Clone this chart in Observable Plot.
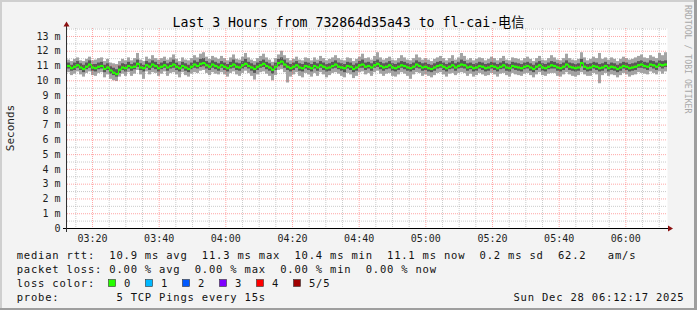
<!DOCTYPE html>
<html><head><meta charset="utf-8">
<script src="https://cdn.jsdelivr.net/npm/d3@7"></script>
<script src="https://cdn.jsdelivr.net/npm/@observablehq/plot@0.6"></script>
<style>
html,body{margin:0;padding:0;background:#f3f3f3;}
svg{display:block}
</style></head><body><div id="chart"></div>
<script>
const titleText = "Last 3 Hours from 732864d35a43 to fl-cai-电信";
const yAxisTitle = "Seconds";
const watermarkText = "RRDTOOL / TOBI OETIKER";
const yTickValues = [0,1,2,3,4,5,6,7,8,9,10,11,12,13];
const yTickLabels = ["0","1 m","2 m","3 m","4 m","5 m","6 m","7 m","8 m","9 m","10 m","11 m","12 m","13 m"];
const xTickLabels = ["03:20","03:40","04:00","04:20","04:40","05:00","05:20","05:40","06:00"];
const graphDate = "2025-12-28";
const rangeStart = "03:12:30";
const rangeEnd = "06:12:30";
const sampleStepSeconds = 54;

const rttMedian = [
11.00,10.85,10.95,11.05,10.90,10.80,10.95,11.10,10.90,10.85,
10.95,11.00,10.80,10.90,10.70,10.55,10.45,10.75,10.90,10.85,
11.00,10.90,10.95,11.15,10.90,10.85,11.05,10.95,11.10,11.00,
10.85,10.95,11.05,10.90,11.00,11.10,10.95,10.85,11.00,10.90,
10.80,10.95,11.10,11.00,11.15,11.20,11.05,10.95,11.10,11.00,
10.90,11.05,10.95,10.85,11.00,11.10,10.95,10.90,11.05,11.15,
11.00,10.90,10.80,10.95,11.05,11.15,11.00,10.90,10.75,10.95,
11.20,11.30,11.10,10.95,10.85,10.95,11.05,10.90,10.85,11.00,
10.95,10.85,11.00,10.90,11.05,10.95,10.85,10.90,11.00,11.10,
10.95,10.90,10.85,11.00,10.95,10.80,10.90,11.05,11.10,10.95,
11.00,10.90,11.05,11.15,11.00,10.90,10.95,11.05,10.90,10.85,
10.95,11.05,11.00,10.90,10.85,10.95,11.10,11.00,10.90,10.95,
10.85,10.80,10.90,11.00,11.05,10.95,10.85,10.95,11.05,10.90,
11.00,11.10,11.05,10.90,10.95,10.85,10.90,11.00,10.95,10.85,
10.90,11.00,10.95,10.85,10.95,11.05,10.90,10.85,11.00,10.95,
10.90,10.85,10.95,11.00,10.90,10.80,10.95,11.05,10.90,10.85,
10.95,11.05,11.00,10.90,10.85,10.95,11.10,10.95,10.90,10.85,
10.90,11.20,10.95,10.85,10.90,11.00,10.95,10.85,10.90,11.00,
10.85,10.95,10.90,10.80,10.90,11.00,10.95,10.85,10.90,10.95,
11.05,11.10,11.00,10.95,11.10,11.05,10.95,11.10,11.05,11.10];
const rttP2 = [
10.80,10.65,10.70,10.85,10.70,10.55,10.75,10.85,10.65,10.60,
10.75,10.80,10.55,10.70,10.45,10.35,10.25,10.50,10.70,10.60,
10.80,10.65,10.75,10.90,10.70,10.60,10.85,10.70,10.85,10.75,
10.60,10.75,10.85,10.65,10.80,10.85,10.70,10.60,10.80,10.65,
10.55,10.75,10.85,10.80,10.90,10.95,10.80,10.70,10.85,10.75,
10.65,10.85,10.70,10.60,10.80,10.85,10.70,10.65,10.80,10.90,
10.80,10.65,10.50,10.70,10.85,10.90,10.75,10.65,10.45,10.70,
10.95,11.05,10.85,10.70,10.60,10.70,10.85,10.65,10.60,10.80,
10.70,10.60,10.80,10.65,10.85,10.70,10.60,10.65,10.80,10.85,
10.75,10.65,10.55,10.80,10.70,10.55,10.65,10.85,10.85,10.70,
10.80,10.65,10.85,10.90,10.75,10.65,10.75,10.80,10.65,10.60,
10.70,10.85,10.75,10.65,10.60,10.70,10.85,10.80,10.65,10.70,
10.60,10.55,10.65,10.80,10.85,10.70,10.60,10.75,10.80,10.65,
10.80,10.85,10.80,10.65,10.75,10.60,10.65,10.80,10.70,10.60,
10.65,10.80,10.70,10.60,10.75,10.80,10.65,10.60,10.80,10.70,
10.65,10.60,10.75,10.80,10.65,10.55,10.70,10.85,10.65,10.60,
10.75,10.80,10.80,10.65,10.60,10.70,10.85,10.70,10.65,10.60,
10.65,10.95,10.70,10.60,10.65,10.80,10.70,10.60,10.65,10.80,
10.60,10.70,10.65,10.55,10.65,10.80,10.70,10.60,10.65,10.70,
10.85,10.85,10.80,10.70,10.90,10.80,10.70,10.90,10.80,10.90];
const rttP4 = [
11.20,11.05,11.20,11.30,11.15,11.05,11.20,11.35,11.10,11.10,
11.20,11.25,11.05,11.15,10.95,10.85,10.75,11.00,11.15,11.10,
11.25,11.10,11.20,11.40,11.15,11.05,11.30,11.20,11.35,11.25,
11.10,11.20,11.30,11.15,11.25,11.40,11.20,11.05,11.25,11.15,
11.05,11.20,11.35,11.25,11.45,11.50,11.30,11.20,11.35,11.25,
11.15,11.30,11.20,11.10,11.25,11.40,11.20,11.15,11.30,11.45,
11.25,11.15,11.05,11.20,11.30,11.40,11.25,11.15,11.00,11.20,
11.45,11.55,11.40,11.20,11.10,11.20,11.30,11.15,11.10,11.25,
11.20,11.10,11.25,11.15,11.30,11.20,11.10,11.15,11.25,11.35,
11.20,11.15,11.10,11.25,11.20,11.05,11.15,11.30,11.40,11.20,
11.25,11.15,11.30,11.40,11.25,11.15,11.20,11.30,11.15,11.10,
11.20,11.30,11.25,11.15,11.10,11.20,11.35,11.25,11.15,11.20,
11.10,11.05,11.15,11.25,11.30,11.20,11.10,11.20,11.30,11.15,
11.25,11.40,11.30,11.15,11.20,11.10,11.15,11.25,11.20,11.10,
11.15,11.25,11.20,11.10,11.20,11.30,11.15,11.10,11.25,11.20,
11.15,11.10,11.20,11.25,11.15,11.05,11.20,11.30,11.15,11.10,
11.20,11.30,11.25,11.15,11.10,11.20,11.35,11.20,11.15,11.10,
11.15,11.45,11.20,11.10,11.15,11.25,11.20,11.10,11.15,11.25,
11.10,11.20,11.15,11.05,11.15,11.25,11.20,11.10,11.15,11.20,
11.30,11.35,11.25,11.20,11.35,11.30,11.20,11.35,11.30,11.35];
const rttMin = [
10.55,10.35,10.45,10.60,10.40,10.25,10.50,10.60,10.35,10.30,
10.50,10.55,10.20,10.40,10.10,10.00,9.95,10.25,10.45,10.30,
10.55,10.30,10.45,10.70,10.40,10.10,10.60,10.40,10.55,10.50,
10.30,10.45,10.60,10.30,10.50,10.55,10.40,10.20,10.55,10.35,
10.25,10.45,10.55,10.50,10.65,10.70,10.50,10.35,10.55,10.45,
10.40,10.55,10.40,10.25,10.50,10.60,10.40,10.30,10.50,10.65,
10.50,10.30,10.05,10.40,10.55,10.60,10.45,10.30,10.00,10.35,
10.70,10.75,10.55,9.85,10.25,10.40,10.55,10.30,10.20,10.50,
10.40,10.25,10.50,10.30,10.55,10.40,10.20,10.35,10.50,10.55,
10.45,10.30,10.20,10.50,10.40,10.15,10.30,10.55,10.60,10.40,
10.50,10.30,10.55,10.65,10.45,10.30,10.45,10.50,10.30,10.25,
10.40,10.55,10.45,10.30,10.10,10.40,10.55,10.50,10.30,10.40,
10.30,10.20,10.35,10.50,10.55,10.40,10.25,10.45,10.50,10.35,
10.50,10.55,10.50,10.30,10.45,10.25,10.35,10.50,10.40,10.30,
10.35,10.50,10.40,10.25,10.45,10.50,10.35,10.25,10.50,10.40,
10.35,10.30,10.45,10.50,10.35,10.20,10.40,10.55,10.35,10.30,
10.45,10.50,10.50,10.30,10.25,10.40,10.55,10.40,10.30,10.25,
10.35,10.55,10.40,10.30,10.30,10.50,10.40,9.80,10.35,10.50,
10.30,10.40,10.35,10.20,10.35,10.50,10.40,10.25,10.35,10.40,
10.55,10.50,10.45,10.40,10.60,10.50,10.40,10.60,10.45,10.60];
const rttMax = [
11.40,11.30,11.45,11.55,11.35,11.30,11.45,11.60,11.35,11.40,
11.50,11.55,11.30,11.45,11.20,11.15,11.10,11.30,11.45,11.35,
11.55,11.35,11.50,11.85,11.40,11.30,11.60,11.45,11.70,11.50,
11.40,11.50,11.60,11.40,11.55,11.75,11.45,11.30,11.55,11.40,
11.35,11.50,11.70,11.55,11.80,11.90,11.60,11.45,11.65,11.55,
11.45,11.65,11.50,11.35,11.55,11.75,11.45,11.40,11.60,11.85,
11.55,11.40,11.30,11.50,11.65,11.80,11.55,11.40,11.25,11.50,
11.75,12.00,11.70,11.50,11.35,11.45,11.60,11.40,11.35,11.55,
11.50,11.35,11.55,11.40,11.65,11.50,11.35,11.45,11.55,11.70,
11.50,11.40,11.35,11.55,11.50,11.30,11.45,11.60,11.80,11.50,
11.55,11.40,11.65,11.90,11.55,11.40,11.50,11.60,11.40,11.35,
11.50,11.70,11.55,11.40,11.35,11.50,11.75,11.55,11.40,11.50,
11.40,11.30,11.45,11.55,11.65,11.50,11.35,11.50,11.70,11.40,
11.55,11.85,11.65,11.40,11.50,11.35,11.45,11.55,11.50,11.35,
11.45,11.60,11.50,11.35,11.50,11.65,11.40,11.35,11.55,11.50,
11.45,11.35,11.50,11.60,11.45,11.30,11.50,11.65,11.40,11.35,
11.50,11.70,11.55,11.40,11.35,11.50,11.80,11.50,11.40,11.35,
11.45,11.90,11.55,11.35,11.45,11.60,11.50,11.85,11.45,11.55,
11.40,11.55,11.45,11.30,11.45,11.60,11.50,11.40,11.45,11.55,
11.65,11.75,11.55,11.50,11.70,11.60,11.50,11.85,11.70,11.90];

const legendRtt = "median rtt:  10.9 ms avg  11.3 ms max  10.4 ms min  11.1 ms now  0.2 ms sd  62.2   am/s";
const legendLoss = "packet loss: 0.00 % avg  0.00 % max  0.00 % min  0.00 % now";
const legendLossTitle = "loss color:";
const lossLabels = ["0","1","2","3","4","5/5"];
const lossColors = ["#26ff00","#00b8ff","#0059ff","#7e00ff","#ff0000","#a00000"];
const legendProbe = "probe:        5 TCP Pings every 15s";
const stampText = "Sun Dec 28 06:12:17 2025";

// ---- build ----
const t0 = new Date(`${graphDate}T${rangeStart}Z`);
const tEnd = new Date(`${graphDate}T${rangeEnd}Z`);
const samples = rttMedian.map((m, i) => ({
  t1: new Date(+t0 + i * sampleStepSeconds * 1000),
  t2: new Date(+t0 + (i + 1) * sampleStepSeconds * 1000),
  med: m, p2: rttP2[i], p4: rttP4[i], lo: rttMin[i], hi: rttMax[i]
}));
const majorX = xTickLabels.map(l => new Date(`${graphDate}T${l}:00Z`));
const labelByTime = new Map(majorX.map((d, i) => [+d, xTickLabels[i]]));
const minorX = d3.utcMinute.every(5).range(t0, tEnd).filter(d => !labelByTime.has(+d));
const majorY = yTickValues.filter(v => v > 0);
const minorY = yTickValues.map(v => v + 0.5);
const MONO = "DejaVu Sans Mono, 'Noto Sans CJK SC', monospace";

const plot = Plot.plot({
  width: 697, height: 310,
  marginLeft: 67, marginRight: 30, marginTop: 28, marginBottom: 82,
  style: {background: "#f3f3f3", fontFamily: MONO, color: "#1e1e1e", overflow: "visible"},
  x: {type: "utc", domain: [t0, tEnd]},
  y: {domain: [0, 13.54]},
  marks: [
    Plot.frame({fill: "white", stroke: null}),
    Plot.rect(samples, {x1: "t1", x2: "t2", y1: "lo", y2: "hi", fill: "#a4a4a4"}),
    Plot.rect(samples, {x1: "t1", x2: "t2", y1: "p2", y2: "p4", fill: "#585858"}),
    Plot.gridX(minorX, {stroke: "#a0a0a0", strokeOpacity: 0.55, strokeDasharray: "1,1"}),
    Plot.gridY(minorY, {stroke: "#a0a0a0", strokeOpacity: 0.55, strokeDasharray: "1,1"}),
    Plot.gridX(majorX, {stroke: "#ff5050", strokeOpacity: 0.5, strokeDasharray: "1,1"}),
    Plot.gridY(majorY, {stroke: "#ff5050", strokeOpacity: 0.5, strokeDasharray: "1,1"}),
    Plot.line(samples, {x: "t1", y: "med", curve: "step-after", stroke: lossColors[0], strokeWidth: 1}),
    Plot.ruleY(samples, {x1: "t1", x2: "t2", y: "med", stroke: lossColors[0], strokeWidth: 2.2}),
    Plot.axisX(majorX, {tickSize: 0, tickPadding: 6, tickFormat: d => labelByTime.get(+d), fontSize: 10, fontFamily: MONO}),
    Plot.axisY(yTickValues, {tickSize: 0, tickPadding: 7, tickFormat: d => yTickLabels[d], fontSize: 10, fontFamily: MONO})
  ]
});

const svg = d3.select(plot);
const xs = plot.scale("x"), ys = plot.scale("y");
const xL = xs.apply(t0), xR = xs.apply(tEnd), y0 = ys.apply(0);

// frame shading
svg.append("rect").attr("x", 0).attr("y", 0).attr("width", 697).attr("height", 2).attr("fill", "#cfcfcf");
svg.append("rect").attr("x", 0).attr("y", 0).attr("width", 2).attr("height", 310).attr("fill", "#cfcfcf");
svg.append("rect").attr("x", 694).attr("y", 0).attr("width", 3).attr("height", 310).attr("fill", "#9e9e9e");
svg.append("rect").attr("x", 0).attr("y", 308).attr("width", 697).attr("height", 2).attr("fill", "#9e9e9e");

// axes lines + arrows
svg.append("line").attr("x1", xL - 4).attr("x2", xR + 1).attr("y1", y0 + 0.5).attr("y2", y0 + 0.5).attr("stroke", "#000").attr("stroke-width", 1);
svg.append("line").attr("x1", xL - 0.5).attr("x2", xL - 0.5).attr("y1", y0 + 4).attr("y2", 25).attr("stroke", "#303030").attr("stroke-width", 1);
svg.append("path").attr("d", `M${xR + 6},${y0 + 0.5} L${xR + 1},${y0 - 2.5} L${xR + 1},${y0 + 3.5} Z`).attr("fill", "#8b1010");
svg.append("path").attr("d", `M${xL - 0.5},21.5 L${xL - 3.5},26.5 L${xL + 2.5},26.5 Z`).attr("fill", "#8b1010");

// title
svg.append("text").attr("x", 348.5).attr("y", 27).attr("text-anchor", "middle")
  .attr("font-family", MONO).attr("font-size", 13.2).attr("fill", "#000").text(titleText);

// y title
svg.append("text").attr("transform", `translate(14,${(ys.apply(13.54) + y0) / 2}) rotate(-90)`)
  .attr("text-anchor", "middle").attr("font-family", MONO).attr("font-size", 11).attr("fill", "#1e1e1e").text(yAxisTitle);

// watermark
svg.append("text").attr("transform", "translate(685,5) rotate(90)").attr("text-anchor", "start")
  .attr("font-family", MONO).attr("font-size", 8.2).attr("fill", "#a8a8a8").text(watermarkText);

// legend
function legendText(str, x, y) {
  return svg.append("text").attr("x", x).attr("y", y).attr("text-anchor", "start")
    .attr("xml:space", "preserve").style("white-space", "pre")
    .attr("font-family", MONO).attr("font-size", 10.5).attr("letter-spacing", 0.8)
    .attr("fill", "#111").text(str);
}
legendText(legendRtt, 16.7, 258.5);
legendText(legendLoss, 16.7, 272.5);
legendText(legendLossTitle, 16.7, 286.5);
lossLabels.forEach((l, i) => {
  const sx = 108.5 + i * 37;
  svg.append("rect").attr("x", sx).attr("y", 279.5).attr("width", 7).attr("height", 7)
    .attr("fill", lossColors[i]).attr("stroke", "#333").attr("stroke-width", 0.6);
  legendText(l, sx + 15.5, 286.5);
});
legendText(legendProbe, 16.7, 300.5);
legendText(stampText, 513.5, 300.5);

document.getElementById("chart").appendChild(plot);
</script></body></html>
